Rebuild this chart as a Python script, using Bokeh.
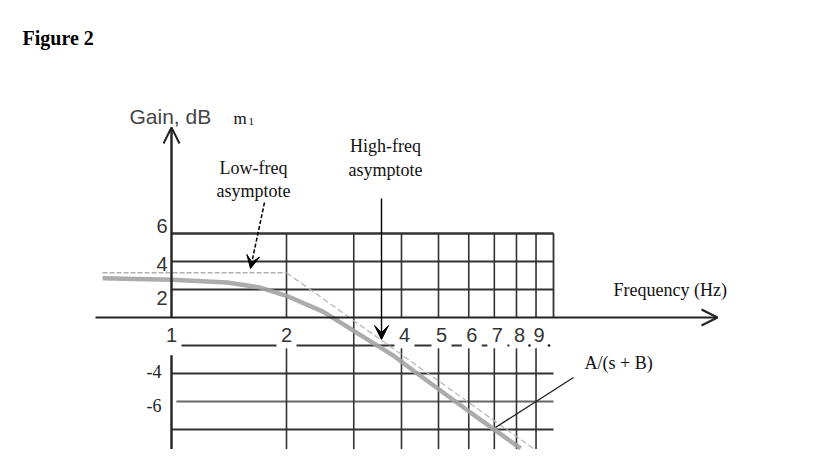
import numpy as np
from bokeh.plotting import figure
from bokeh.models import Range1d, Arrow, OpenHead, VeeHead
from bokeh.core.properties import value
from bokeh.embed import file_html
from bokeh.resources import INLINE

# ---------------- data ----------------
curve_freq = [0.66, 1.0, 1.4, 1.7, 2.0, 2.5, 3.0, 3.8, 4.3, 6.0, 8.2]
curve_gain = [2.8, 2.7, 2.5, 2.15, 1.55, 0.4, -0.95, -2.7, -3.8, -6.7, -9.35]
low_asym_freq = [0.66, 2.0]
low_asym_gain = [3.2, 3.2]
high_asym_freq = [2.0, 8.9]
high_asym_gain = [3.2, -9.4]
grid_freqs = [2, 3, 4, 5, 6, 7, 8, 9]
upper_gains = [6, 4, 2]
lower_gains = [-4, -6, -8]
y_tick_vals = [6, 4, 2]
y_tick_labels = ["6", "4", "2"]
y_neg_vals = [-4, -6]
y_neg_labels = ["-4", "-6"]
x_tick_freqs = [1, 2, 4, 5, 6, 7, 8, 9]
x_tick_labels = ["1", "2", "4", "5", "6", "7", "8", "9"]

# ---------------- layout ----------------
W, H = 799, 452
PX_DEC = 382.0      # pixels per decade
PX_DB = 14.0        # pixels per dB
X1 = 171.0          # frame px of f = 1
Y0 = 317.0          # frame px (from top) of 0 dB
TXT_UP = 7          # baseline correction for alphabetic text

def fx(px):  # frame px -> frequency
    return 10 ** ((px - X1) / PX_DEC)

def gy(py):  # frame px from top -> dB
    return (Y0 - py) / PX_DB

p = figure(width=W, height=H, x_axis_type="log",
           x_range=Range1d(fx(0), fx(W)), y_range=Range1d(gy(H), gy(0)),
           x_axis_location=None, y_axis_location=None,
           toolbar_location=None, output_backend="svg", min_border=0)
p.min_border_left = p.min_border_right = p.min_border_top = p.min_border_bottom = 0
p.outline_line_color = None
p.xgrid.visible = False
p.ygrid.visible = False
p.background_fill_color = "white"
p.border_fill_color = "white"

GRID = "#333333"
f_end = 10.0
g_bottom = -9.4

# upper horizontal grid
for g in upper_gains:
    p.segment(x0=[1.0], y0=[g], x1=[f_end], y1=[g], line_color=GRID,
              line_width=2.6 if g == 6 else 2)
# lower horizontal grid
for g in lower_gains:
    p.segment(x0=[1.0 if g != -6 else 1.03], y0=[g], x1=[f_end], y1=[g],
              line_color=GRID if g != -6 else "#666666", line_width=2)

# broken -2 line between the frequency labels
gap = 10 ** (10 / PX_DEC)
lab_pos = [f * (10 ** (3 / PX_DEC)) if f > 2 else f for f in x_tick_freqs] + [f_end / gap]
for a, b in zip(lab_pos[:-1], lab_pos[1:]):
    s, e = a * gap, b / gap
    if e <= s:
        p.scatter([s], [-2], size=2, color=GRID)
    else:
        p.segment(x0=[s], y0=[-2], x1=[e], y1=[-2], line_color=GRID, line_width=2)

# vertical grid lines
for f in grid_freqs:
    if f == 3:
        p.segment(x0=[f], y0=[6], x1=[f], y1=[g_bottom], line_color=GRID, line_width=1.6)
    else:
        p.segment(x0=[f], y0=[6], x1=[f], y1=[0], line_color=GRID, line_width=1.6)
        p.segment(x0=[f], y0=[-2.2], x1=[f], y1=[g_bottom], line_color=GRID, line_width=1.6)
p.segment(x0=[f_end], y0=[6], x1=[f_end], y1=[0], line_color=GRID, line_width=1.8)

# gain axis (vertical) with open arrow
p.add_layout(Arrow(end=OpenHead(size=16, line_width=2, line_color="#222222"),
                   x_start=1.0, y_start=0, x_end=1.0, y_end=gy(127),
                   line_width=2.4, line_color="#222222"))
p.segment(x0=[1.0], y0=[-2.7], x1=[1.0], y1=[g_bottom], line_color="#222222", line_width=2.4)

# frequency axis (horizontal) with open arrow
p.add_layout(Arrow(end=OpenHead(size=16, line_width=2, line_color="#222222"),
                   x_start=fx(95), y_start=0, x_end=fx(717), y_end=0,
                   line_width=2, line_color="#222222"))

# response curve and asymptotes
p.line(curve_freq, curve_gain, line_color="#a3a3a3", line_width=4.5, line_alpha=0.9)
p.line(low_asym_freq, low_asym_gain, line_color="#b0b0b0", line_width=1.5, line_dash="5 2")
p.line(high_asym_freq, high_asym_gain, line_color="#b8b8b8", line_width=1.3, line_dash="6 3")

# annotation arrows
p.add_layout(Arrow(end=VeeHead(size=13, fill_color="black", line_color="black"),
                   x_start=fx(264), y_start=gy(202), x_end=fx(250), y_end=gy(268),
                   line_width=1.5, line_dash="4 2", line_color="black"))
p.add_layout(Arrow(end=VeeHead(size=14, fill_color="black", line_color="black"),
                   x_start=fx(381), y_start=gy(198), x_end=fx(381), y_end=gy(339),
                   line_width=1.4, line_color="black"))
p.segment(x0=[fx(495)], y0=[gy(427)], x1=[fx(573)], y1=[gy(377)], line_color="#222222", line_width=1.4)

SERIF = value("Liberation Serif")
SANS = value("Liberation Sans")

def txt(x, y, s, font, size, color="#111111", align="left", baseline="alphabetic", style="normal"):
    p.text(x=[x], y=[y], text=[s], text_font=font, text_font_size=f"{size}px",
           text_color=color, text_align=align, text_baseline=baseline,
           text_font_style=style)

txt(fx(22), gy(44 - TXT_UP), "Figure 2", SERIF, 20, color="black", style="bold")
txt(fx(129), gy(123 - TXT_UP), "Gain, dB", SANS, 21, color="#454545")
txt(fx(233), gy(125 - TXT_UP), "m", SERIF, 17)
txt(fx(248), gy(128 - TXT_UP), "1", SERIF, 11)
txt(fx(253), gy(174 - TXT_UP), "Low-freq", SERIF, 18, align="center")
txt(fx(253), gy(197 - TXT_UP), "asymptote", SERIF, 18, align="center")
txt(fx(385), gy(152 - TXT_UP), "High-freq", SERIF, 18, align="center")
txt(fx(385), gy(176 - TXT_UP), "asymptote", SERIF, 18, align="center")
txt(fx(613), gy(296 - TXT_UP), "Frequency (Hz)", SERIF, 18)
txt(fx(584), gy(369 - TXT_UP), "A/(s + B)", SERIF, 18)

# tick labels
p.text(x=[fx(167)] * 3, y=y_tick_vals, y_offset=[-8, 2, 8], text=y_tick_labels, text_font=SANS,
       text_font_size="20px", text_color="#333333", text_align="right", text_baseline="middle")
p.text(x=[fx(161)] * 2, y=y_neg_vals, y_offset=[-2, 4], text=y_neg_labels, text_font=SERIF,
       text_font_size="18px", text_color="#222222", text_align="right", text_baseline="middle")
p.text(x=lab_pos[:-1], y=[-1.25] * len(x_tick_labels), text=x_tick_labels, text_font=SANS,
       text_font_size="20px", text_color="#333333", text_align="center", text_baseline="middle")

open("out.html", "w").write(file_html(p, INLINE))
